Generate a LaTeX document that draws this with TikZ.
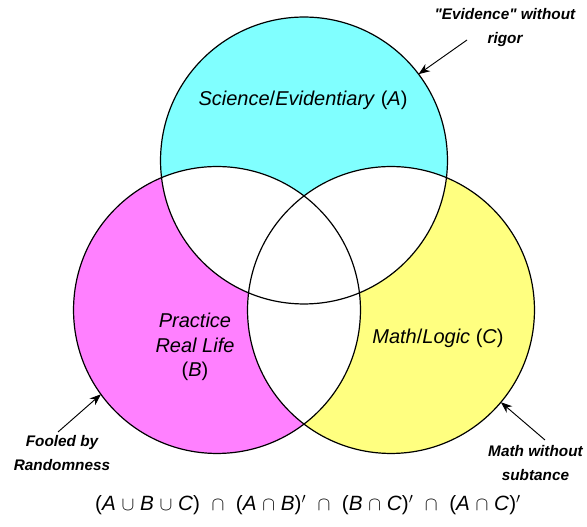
\documentclass[tikz,border=0pt]{standalone}
\usepackage{fontspec}
\setmainfont{Liberation Sans}[Ligatures=TeXOff]
\usetikzlibrary{arrows.meta, positioning}
\definecolor{setA}{RGB}{128,255,255}
\definecolor{setB}{RGB}{255,128,255}
\definecolor{setC}{RGB}{255,255,128}
\tikzstyle{setcircle} = [circle, draw=black, line width=0.9pt, minimum size=215.2pt, inner sep=0pt, outer sep=0pt]
\tikzstyle{setlabel} = [font=\itshape\fontsize{15}{18.4}\selectfont, align=center]
\tikzstyle{remark} = [font=\bfseries\itshape\fontsize{11.5}{18}\selectfont, align=center]
\tikzstyle{arrow} = [line width=0.7pt,->,>={Stealth[length=8.5pt, width=6.5pt]}]
\newcommand{\up}[1]{\textup{#1}}
\begin{document}
\begin{tikzpicture}[x=0.75pt, y=-0.75pt]
\useasboundingbox (0,0) rectangle (587,527);
\def\rad{107.6pt}
\coordinate (cA) at (304,160.5);
\coordinate (cB) at (217,310);
\coordinate (cC) at (391,310);

% fills, pairwise overlaps left white
\fill[setA] (cA) circle (\rad);
\fill[setB] (cB) circle (\rad);
\fill[setC] (cC) circle (\rad);
\begin{scope}
  \clip (cA) circle (\rad);
  \fill[white] (cB) circle (\rad);
  \fill[white] (cC) circle (\rad);
\end{scope}
\begin{scope}
  \clip (cB) circle (\rad);
  \fill[white] (cC) circle (\rad);
\end{scope}

\node (A) [setcircle] at (cA) {};
\node (B) [setcircle] at (cB) {};
\node (C) [setcircle] at (cC) {};

\node (labA) [setlabel] at (303,100) {Science\up{/}Evidentiary \up{(}A\up{)}};
\node (labB) [setlabel] at (195,347) {Practice\\Real Life\\\up{(}B\up{)}};
\node (labC) [setlabel] at (438,338) {Math\up{/}Logic \up{(}C\up{)}};

\node (evid) [remark] at (505,27.5) {"Evidence" without\\rigor};
\node (fooled) [remark] at (62,453.5) {Fooled by\\Randomness};
\node (nosubst) [remark] at (535.5,463.5) {Math without\\subtance};

\coordinate (evidtail) at (467,40);
\coordinate (fooledtail) at (58,432);
\coordinate (nosubsttail) at (545,440);
\draw [arrow] (evidtail) -- (A.37);
\draw [arrow] (fooledtail) -- (B.216);
\draw [arrow] (nosubsttail) -- (C.-40);

\node (formula) [font=\fontsize{15.5}{18}\selectfont] at (308,505)
  {(\textit{A} $\cup$ \textit{B} $\cup$ \textit{C})\ \ $\cap$\ \ (\textit{A} $\cap$ \textit{B})$'$\ \ $\cap$\ \ (\textit{B} $\cap$ \textit{C})$'$\ \ $\cap$\ \ (\textit{A} $\cap$ \textit{C})$'$};
\end{tikzpicture}
\end{document}
